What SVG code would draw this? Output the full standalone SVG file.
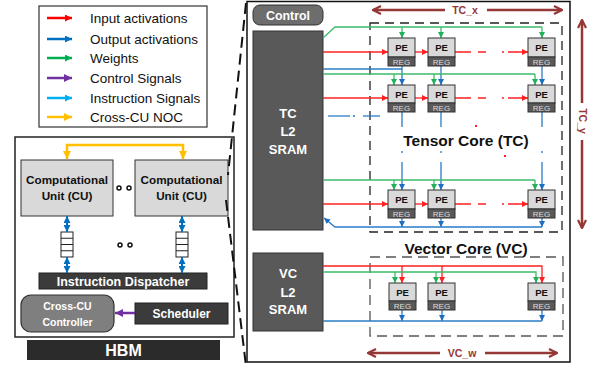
<svg xmlns="http://www.w3.org/2000/svg" width="595" height="368" viewBox="0 0 595 368">
<style>
text{font-family:"Liberation Sans",Arial,sans-serif}
.lg{font-size:13.5px;fill:#111}
.bw{font-weight:bold;fill:#fff;text-anchor:middle}
.bk{font-weight:bold;fill:#111;text-anchor:middle}
.dim{font-size:10.5px;font-weight:bold;fill:#953735;text-anchor:middle}
.r{stroke:#ff2020;stroke-width:1.3;fill:none}
.g{stroke:#3cba6a;stroke-width:1.3;fill:none}
.b{stroke:#2a7cc7;stroke-width:1.3;fill:none}
.d{stroke:#953735;stroke-width:2.5;fill:none}
.pe-t{fill:#d9d9d9;stroke:#333;stroke-width:1}
.pe-b{fill:#595959;stroke:#333;stroke-width:1}
.pel{font-size:9.5px;font-weight:bold;fill:#111;text-anchor:middle}
.rgl{font-size:8px;fill:#ddd;text-anchor:middle}
</style>
<defs>
<marker id="aR" viewBox="0 0 10 10" refX="10" refY="5" markerWidth="6" markerHeight="6" markerUnits="userSpaceOnUse" orient="auto-start-reverse"><path d="M0,0L10,5L0,10z" fill="#ff2020"/></marker>
<marker id="aG" viewBox="0 0 10 10" refX="10" refY="5" markerWidth="6" markerHeight="6" markerUnits="userSpaceOnUse" orient="auto-start-reverse"><path d="M0,0L10,5L0,10z" fill="#22b05a"/></marker>
<marker id="aB" viewBox="0 0 10 10" refX="10" refY="5" markerWidth="6" markerHeight="6" markerUnits="userSpaceOnUse" orient="auto-start-reverse"><path d="M0,0L10,5L0,10z" fill="#1f6fc0"/></marker>
<marker id="LR" viewBox="0 0 10 10" refX="10" refY="5" markerWidth="8" markerHeight="7" markerUnits="userSpaceOnUse" orient="auto"><path d="M0,0L10,5L0,10z" fill="#ff0000"/></marker>
<marker id="LB" viewBox="0 0 10 10" refX="10" refY="5" markerWidth="8" markerHeight="7" markerUnits="userSpaceOnUse" orient="auto-start-reverse"><path d="M0,0L10,5L0,10z" fill="#0070c0"/></marker>
<marker id="LG" viewBox="0 0 10 10" refX="10" refY="5" markerWidth="8" markerHeight="7" markerUnits="userSpaceOnUse" orient="auto"><path d="M0,0L10,5L0,10z" fill="#00b050"/></marker>
<marker id="LP" viewBox="0 0 10 10" refX="10" refY="5" markerWidth="8" markerHeight="8" markerUnits="userSpaceOnUse" orient="auto"><path d="M0,0L10,5L0,10z" fill="#7030a0"/></marker>
<marker id="LC" viewBox="0 0 10 10" refX="10" refY="5" markerWidth="8" markerHeight="7" markerUnits="userSpaceOnUse" orient="auto"><path d="M0,0L10,5L0,10z" fill="#00b0f0"/></marker>
<marker id="LY" viewBox="0 0 10 10" refX="10" refY="5" markerWidth="8" markerHeight="8" markerUnits="userSpaceOnUse" orient="auto-start-reverse"><path d="M0,0L10,5L0,10z" fill="#ffc000"/></marker>
<marker id="aD" viewBox="0 0 10 10" refX="9" refY="5" markerWidth="10" markerHeight="10" markerUnits="userSpaceOnUse" orient="auto-start-reverse"><path d="M1,1L9,5L1,9" fill="none" stroke="#953735" stroke-width="2.2"/></marker>
</defs>

<g id="legend">
<rect x="39" y="6" width="168" height="121" fill="#fff" stroke="#333" stroke-width="1.2"/>
<line x1="47" y1="18" x2="72" y2="18" stroke="#ff0000" stroke-width="2.5" marker-end="url(#LR)"/>
<line x1="47" y1="39" x2="72" y2="39" stroke="#0070c0" stroke-width="2.5" marker-end="url(#LB)"/>
<line x1="47" y1="58" x2="72" y2="58" stroke="#00b050" stroke-width="2.5" marker-end="url(#LG)"/>
<line x1="47" y1="78" x2="72" y2="78" stroke="#7030a0" stroke-width="2.5" marker-end="url(#LP)"/>
<line x1="47" y1="98" x2="72" y2="98" stroke="#00b0f0" stroke-width="2.5" marker-end="url(#LC)"/>
<line x1="47" y1="117" x2="72" y2="117" stroke="#ffc000" stroke-width="2.5" marker-end="url(#LY)"/>
<text class="lg" x="90" y="23">Input activations</text>
<text class="lg" x="90" y="44">Output activations</text>
<text class="lg" x="90" y="63">Weights</text>
<text class="lg" x="90" y="83">Control Signals</text>
<text class="lg" x="90" y="103">Instruction Signals</text>
<text class="lg" x="90" y="122">Cross-CU NOC</text>
</g>

<g id="chip">
<rect x="15" y="137" width="219" height="200" fill="#fff" stroke="#222" stroke-width="1.5"/>
</g>
<g id="cu1">
<rect x="21" y="160" width="92" height="56" fill="#d9d9d9" stroke="#333" stroke-width="1"/>
<text class="bk" x="67" y="184" font-size="11.7">Computational</text>
<text class="bk" x="67" y="200" font-size="11.7">Unit (CU)</text>
</g>
<g id="cu2">
<rect x="135" y="160" width="93" height="56" fill="#d9d9d9" stroke="#333" stroke-width="1"/>
<text class="bk" x="181.5" y="184" font-size="11.7">Computational</text>
<text class="bk" x="181.5" y="200" font-size="11.7">Unit (CU)</text>
</g>
<g id="dots">
<circle cx="119" cy="188" r="2" fill="#fff" stroke="#111" stroke-width="1.5"/>
<circle cx="129" cy="188" r="2" fill="#fff" stroke="#111" stroke-width="1.5"/>
<circle cx="120" cy="245" r="2" fill="#fff" stroke="#111" stroke-width="1.5"/>
<circle cx="130" cy="245" r="2" fill="#fff" stroke="#111" stroke-width="1.5"/>
</g>
<g id="queue1" fill="#fff" stroke="#222" stroke-width="1">
<rect x="61" y="232" width="12" height="25"/>
<line x1="61" y1="238.25" x2="73" y2="238.25"/><line x1="61" y1="244.5" x2="73" y2="244.5"/><line x1="61" y1="250.75" x2="73" y2="250.75"/>
</g>
<g id="queue2" fill="#fff" stroke="#222" stroke-width="1">
<rect x="176" y="232" width="12" height="25"/>
<line x1="176" y1="238.25" x2="188" y2="238.25"/><line x1="176" y1="244.5" x2="188" y2="244.5"/><line x1="176" y1="250.75" x2="188" y2="250.75"/>
</g>
<g id="dispatcher">
<rect x="39" y="273" width="168" height="16" fill="#3b3b3b" stroke="#222"/>
<text class="bw" x="123" y="285.5" font-size="12.5">Instruction Dispatcher</text>
</g>
<g id="controller">
<rect x="21" y="295" width="93" height="37" rx="10" fill="#7f7f7f" stroke="#333" stroke-width="1.2"/>
<text class="bw" x="67.5" y="310" font-size="10.5">Cross-CU</text>
<text class="bw" x="67.5" y="326" font-size="10.5">Controller</text>
</g>
<g id="scheduler">
<rect x="135" y="303" width="93" height="21" fill="#3b3b3b" stroke="#222"/>
<text class="bw" x="181.5" y="318" font-size="12">Scheduler</text>
</g>
<g id="hbm">
<rect x="27" y="340" width="193" height="20" fill="#2b2b2b"/>
<text class="bw" x="123.5" y="356" font-size="16">HBM</text>
</g>

<g id="right-panel">
<rect x="247" y="1.5" width="323" height="360.5" fill="none" stroke="#111" stroke-width="1.5"/>
</g>
<g id="control">
<rect x="253" y="5" width="70" height="20" rx="7" fill="#6d6d6d" stroke="#333"/>
<text class="bw" x="288" y="19.5" font-size="12.4">Control</text>
</g>
<g id="tc-sram">
<rect x="253" y="31" width="70" height="199" fill="#595959" stroke="#333"/>
<text class="bw" x="288" y="118" font-size="13">TC</text>
<text class="bw" x="288" y="136" font-size="13">L2</text>
<text class="bw" x="288" y="154" font-size="13">SRAM</text>
</g>
<g id="vc-sram">
<rect x="253" y="253" width="70" height="78" fill="#595959" stroke="#333"/>
<text class="bw" x="288" y="278" font-size="13">VC</text>
<text class="bw" x="288" y="297" font-size="13">L2</text>
<text class="bw" x="288" y="314" font-size="13">SRAM</text>
</g>
<g id="tensor-core">
<rect x="370" y="23" width="192" height="209" fill="none" stroke="#222" stroke-width="1.3" stroke-dasharray="9,6"/>
<text class="bk" x="466" y="146" font-size="15.5">Tensor Core (TC)</text>
</g>
<g id="vector-core">
<rect x="370" y="257" width="193" height="79" fill="none" stroke="#555" stroke-width="1.3" stroke-dasharray="10,6"/>
<text class="bk" x="466" y="254" font-size="15.5">Vector Core (VC)</text>
</g>

<g id="connectors">
<path d="M67,159V145H183V159" fill="none" stroke="#ffc000" stroke-width="2.5" marker-start="url(#LY)" marker-end="url(#LY)"/>
<line x1="67" y1="216" x2="67" y2="232" stroke="#0070c0" stroke-width="2" marker-start="url(#LB)" marker-end="url(#LB)"/>
<line x1="67" y1="257" x2="67" y2="273" stroke="#0070c0" stroke-width="2" marker-start="url(#LB)" marker-end="url(#LB)"/>
<line x1="182" y1="216" x2="182" y2="232" stroke="#0070c0" stroke-width="2" marker-start="url(#LB)" marker-end="url(#LB)"/>
<line x1="182" y1="257" x2="182" y2="273" stroke="#0070c0" stroke-width="2" marker-start="url(#LB)" marker-end="url(#LB)"/>
<line x1="135" y1="313" x2="115" y2="313" stroke="#7030a0" stroke-width="2.5" marker-end="url(#LP)"/>
<line x1="246" y1="3" x2="228" y2="175" stroke="#111" stroke-width="2" stroke-dasharray="11,6"/>
<line x1="226" y1="200" x2="246" y2="366" stroke="#111" stroke-width="2" stroke-dasharray="11,6"/>

<path class="g" d="M323,38L335,27H542"/>
<line class="g" x1="402" y1="27" x2="402" y2="38" marker-end="url(#aG)"/>
<line class="g" x1="441" y1="27" x2="441" y2="38" marker-end="url(#aG)"/>
<line class="g" x1="542" y1="27" x2="542" y2="38" marker-end="url(#aG)"/>
<line class="r" x1="323" y1="52" x2="388" y2="52" marker-end="url(#aR)"/>
<line class="r" x1="415" y1="52" x2="428" y2="52" marker-end="url(#aR)"/>
<line class="r" x1="455" y1="52" x2="528" y2="52" stroke-dasharray="16 7 8 16 2 4 20" marker-end="url(#aR)"/>
<path class="b" d="M323,69H402"/>
<line class="b" x1="402" y1="66" x2="402" y2="85" marker-end="url(#aB)"/>
<line class="b" x1="441" y1="66" x2="441" y2="85" marker-end="url(#aB)"/>
<line class="b" x1="542" y1="66" x2="542" y2="85" marker-end="url(#aB)"/>
<path class="g" d="M323,74H535"/>
<line class="g" x1="394" y1="74" x2="394" y2="85" marker-end="url(#aG)"/>
<line class="g" x1="434" y1="74" x2="434" y2="85" marker-end="url(#aG)"/>
<line class="g" x1="535" y1="74" x2="535" y2="85" marker-end="url(#aG)"/>
<line class="r" x1="323" y1="98" x2="388" y2="98" marker-end="url(#aR)"/>
<line class="r" x1="415" y1="98" x2="428" y2="98" marker-end="url(#aR)"/>
<line class="r" x1="455" y1="98" x2="528" y2="98" stroke-dasharray="16 7 8 16 2 4 20" marker-end="url(#aR)"/>
<line class="b" x1="402" y1="112" x2="402" y2="190" stroke-dasharray="15 24 2 9 28" marker-end="url(#aB)"/>
<line class="b" x1="441" y1="112" x2="441" y2="190" stroke-dasharray="15 24 2 9 28" marker-end="url(#aB)"/>
<line class="b" x1="542" y1="112" x2="542" y2="190" stroke-dasharray="15 24 2 9 28" marker-end="url(#aB)"/>
<line class="b" x1="328" y1="116" x2="350" y2="116"/>
<line class="b" x1="353" y1="116" x2="355" y2="116"/>
<line class="b" x1="363" y1="116" x2="380" y2="116"/>
<rect x="475" y="125" width="2" height="2" fill="#ff2020"/>
<rect x="504" y="155" width="2" height="2" fill="#ff2020"/>
<path class="g" d="M323,180H535"/>
<line class="g" x1="394" y1="180" x2="394" y2="190" marker-end="url(#aG)"/>
<line class="g" x1="434" y1="180" x2="434" y2="190" marker-end="url(#aG)"/>
<line class="g" x1="535" y1="180" x2="535" y2="190" marker-end="url(#aG)"/>
<line class="r" x1="323" y1="204" x2="388" y2="204" marker-end="url(#aR)"/>
<line class="r" x1="415" y1="204" x2="428" y2="204" marker-end="url(#aR)"/>
<line class="r" x1="455" y1="204" x2="528" y2="204" stroke-dasharray="16 7 8 16 2 4 20" marker-end="url(#aR)"/>
<line class="b" x1="402" y1="218" x2="402" y2="227" marker-end="url(#aB)"/>
<line class="b" x1="441" y1="218" x2="441" y2="227" marker-end="url(#aB)"/>
<line class="b" x1="542" y1="218" x2="542" y2="227" marker-end="url(#aB)"/>
<path class="b" d="M542,227H335L324,218" marker-end="url(#aB)"/>
<path class="r" d="M323,266H542V283" marker-end="url(#aR)"/>
<line class="r" x1="402" y1="266" x2="402" y2="283" marker-end="url(#aR)"/>
<line class="r" x1="442" y1="266" x2="442" y2="283" marker-end="url(#aR)"/>
<path class="g" d="M323,272H536V283" marker-end="url(#aG)"/>
<line class="g" x1="395" y1="272" x2="395" y2="283" marker-end="url(#aG)"/>
<line class="g" x1="436" y1="272" x2="436" y2="283" marker-end="url(#aG)"/>
<line class="b" x1="402" y1="310" x2="402" y2="321" marker-end="url(#aB)"/>
<line class="b" x1="442" y1="310" x2="442" y2="321" marker-end="url(#aB)"/>
<line class="b" x1="542" y1="310" x2="542" y2="321" marker-end="url(#aB)"/>
<path class="b" d="M542,321H323"/>
<line class="d" x1="373" y1="10" x2="445" y2="10" marker-start="url(#aD)"/>
<line class="d" x1="487" y1="10" x2="562" y2="10" marker-end="url(#aD)"/>
<line class="d" x1="582" y1="20" x2="582" y2="103" marker-start="url(#aD)"/>
<line class="d" x1="582" y1="140" x2="582" y2="228" marker-end="url(#aD)"/>
<line class="d" x1="368" y1="353" x2="440" y2="353" marker-start="url(#aD)"/>
<line class="d" x1="485" y1="353" x2="557" y2="353" marker-end="url(#aD)"/>
</g>
<g id="dim-labels">
<text class="dim" x="465" y="14">TC_x</text>
<text class="dim" transform="translate(578.5,121) rotate(90)" x="0" y="0">TC_y</text>
<text class="dim" x="462" y="357">VC_w</text>
</g>

<g id="pe-tc-1-1"><rect class="pe-t" x="388" y="38" width="27" height="19"/><rect class="pe-b" x="388" y="57" width="27" height="9"/><text class="pel" x="401.5" y="51">PE</text><text class="rgl" x="401.5" y="64.5">REG</text></g>
<g id="pe-tc-1-2"><rect class="pe-t" x="428" y="38" width="27" height="19"/><rect class="pe-b" x="428" y="57" width="27" height="9"/><text class="pel" x="441.5" y="51">PE</text><text class="rgl" x="441.5" y="64.5">REG</text></g>
<g id="pe-tc-1-3"><rect class="pe-t" x="528" y="38" width="27" height="19"/><rect class="pe-b" x="528" y="57" width="27" height="9"/><text class="pel" x="541.5" y="51">PE</text><text class="rgl" x="541.5" y="64.5">REG</text></g>
<g id="pe-tc-2-1"><rect class="pe-t" x="388" y="85" width="27" height="18"/><rect class="pe-b" x="388" y="103" width="27" height="9"/><text class="pel" x="401.5" y="97.5">PE</text><text class="rgl" x="401.5" y="110.5">REG</text></g>
<g id="pe-tc-2-2"><rect class="pe-t" x="428" y="85" width="27" height="18"/><rect class="pe-b" x="428" y="103" width="27" height="9"/><text class="pel" x="441.5" y="97.5">PE</text><text class="rgl" x="441.5" y="110.5">REG</text></g>
<g id="pe-tc-2-3"><rect class="pe-t" x="528" y="85" width="27" height="18"/><rect class="pe-b" x="528" y="103" width="27" height="9"/><text class="pel" x="541.5" y="97.5">PE</text><text class="rgl" x="541.5" y="110.5">REG</text></g>
<g id="pe-tc-3-1"><rect class="pe-t" x="388" y="190" width="27" height="19"/><rect class="pe-b" x="388" y="209" width="27" height="9"/><text class="pel" x="401.5" y="203">PE</text><text class="rgl" x="401.5" y="216.5">REG</text></g>
<g id="pe-tc-3-2"><rect class="pe-t" x="428" y="190" width="27" height="19"/><rect class="pe-b" x="428" y="209" width="27" height="9"/><text class="pel" x="441.5" y="203">PE</text><text class="rgl" x="441.5" y="216.5">REG</text></g>
<g id="pe-tc-3-3"><rect class="pe-t" x="528" y="190" width="27" height="19"/><rect class="pe-b" x="528" y="209" width="27" height="9"/><text class="pel" x="541.5" y="203">PE</text><text class="rgl" x="541.5" y="216.5">REG</text></g>
<g id="pe-vc-1"><rect class="pe-t" x="389" y="283" width="27" height="18"/><rect class="pe-b" x="389" y="301" width="27" height="9"/><text class="pel" x="402.5" y="295.5">PE</text><text class="rgl" x="402.5" y="308.5">REG</text></g>
<g id="pe-vc-2"><rect class="pe-t" x="428" y="283" width="27" height="18"/><rect class="pe-b" x="428" y="301" width="27" height="9"/><text class="pel" x="441.5" y="295.5">PE</text><text class="rgl" x="441.5" y="308.5">REG</text></g>
<g id="pe-vc-3"><rect class="pe-t" x="528" y="283" width="27" height="18"/><rect class="pe-b" x="528" y="301" width="27" height="9"/><text class="pel" x="541.5" y="295.5">PE</text><text class="rgl" x="541.5" y="308.5">REG</text></g>
</svg>
